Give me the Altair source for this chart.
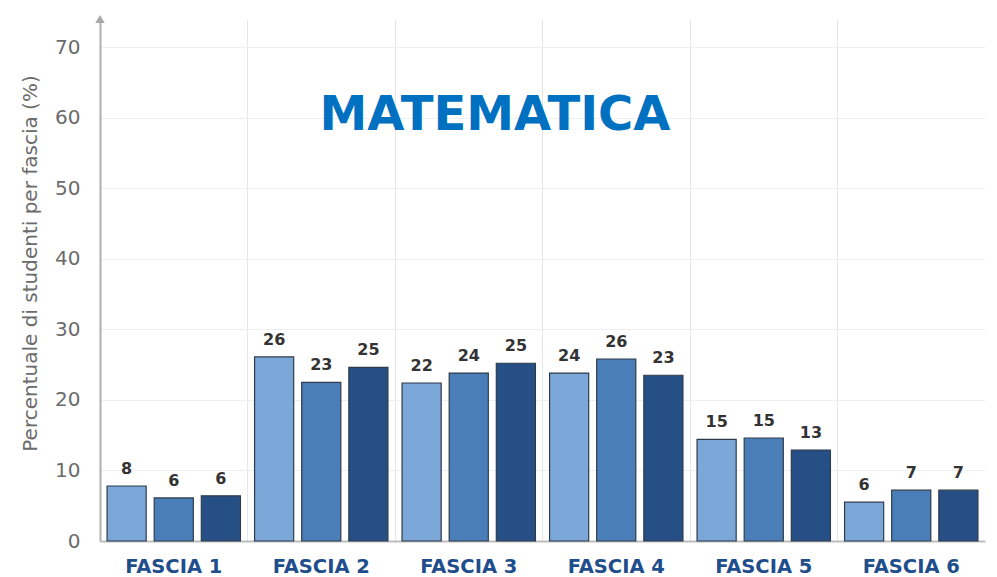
import altair as alt
import pandas as pd

fasce = ["FASCIA 1", "FASCIA 2", "FASCIA 3", "FASCIA 4", "FASCIA 5", "FASCIA 6"]
serie = ["A", "B", "C"]
valori_a = [7.8, 26.1, 22.4, 23.8, 14.4, 5.5]
valori_b = [6.1, 22.5, 23.8, 25.8, 14.6, 7.2]
valori_c = [6.4, 24.6, 25.2, 23.5, 12.9, 7.2]
etichette_a = ["8", "26", "22", "24", "15", "6"]
etichette_b = ["6", "23", "24", "26", "15", "7"]
etichette_c = ["6", "25", "25", "23", "13", "7"]
colori = ["#7ba7d9", "#4a7eb8", "#264f86"]
y_ticks = [0, 10, 20, 30, 40, 50, 60, 70]

rows = []
for vals, labs, s in [(valori_a, etichette_a, "A"), (valori_b, etichette_b, "B"), (valori_c, etichette_c, "C")]:
    for f, v, l in zip(fasce, vals, labs):
        rows.append({"fascia": f, "serie": s, "valore": v, "etichetta": l})
df = pd.DataFrame(rows)

W, H = 885, 522
ymax = 74

x_enc = alt.X("fascia:N", sort=fasce, scale=alt.Scale(paddingInner=0, paddingOuter=0),
              axis=alt.Axis(title=None, labelAngle=0, labelFont="DejaVu Sans", labelFontWeight="bold",
                            labelFontSize=19.5, labelColor="#1f4e8c", labelPadding=16, ticks=False,
                            domainColor="#bdbdbd", domainWidth=2, grid=True, gridColor="#e6e6e6",
                            bandPosition=0))
y_enc = alt.Y("valore:Q", scale=alt.Scale(domain=[0, ymax], nice=False),
              axis=alt.Axis(values=y_ticks, title="Percentuale di studenti per fascia (%)",
                            titleFont="DejaVu Sans", titleFontSize=20, titleFontWeight="normal",
                            titleColor="#6b6b6b", titleX=-70, titleY=244, titleAngle=-90,
                            titleAlign="center", titleBaseline="middle",
                            labelFont="DejaVu Sans", labelFontSize=20, labelColor="#6b6b6b",
                            labelPadding=20, ticks=False, domainColor="#b0b0b0", domainWidth=2,
                            gridColor="#efefef"))
xo = alt.XOffset("serie:N", scale=alt.Scale(paddingInner=0.17, paddingOuter=0.15))

bars = alt.Chart(df).mark_bar(stroke="#2f3b4a", strokeWidth=1.2).encode(
    x=x_enc, y=y_enc, xOffset=xo,
    color=alt.Color("serie:N", scale=alt.Scale(domain=serie, range=colori), legend=None),
)
labels = alt.Chart(df).mark_text(dy=-17, font="DejaVu Sans", fontWeight="bold", fontSize=16,
                                 color="#333333").encode(
    x=alt.X("fascia:N", sort=fasce), y="valore:Q", xOffset=xo, text="etichetta:N")

title = alt.Chart(pd.DataFrame({"t": ["MATEMATICA"]})).mark_text(
    font="DejaVu Sans", fontWeight="bold", fontSize=48, color="#0070c0", align="center",
    baseline="alphabetic").encode(x=alt.value(395), y=alt.value(111), text="t:N")

arrow = alt.Chart(pd.DataFrame({"v": [ymax]})).mark_point(
    shape="triangle-up", filled=True, color="#a8a8a8", size=90, opacity=1).encode(
    x=alt.value(0), y=alt.Y("v:Q"))

chart = alt.layer(bars, labels, title, arrow).properties(
    width=W, height=H,
    autosize=alt.AutoSizeParams(type="none"),
    padding={"left": 92, "top": 11, "right": 2, "bottom": 36},
).configure_view(stroke=None).configure_scale(bandPaddingInner=0)

chart.save("out.html", embed_options={"renderer": "svg", "actions": False})
